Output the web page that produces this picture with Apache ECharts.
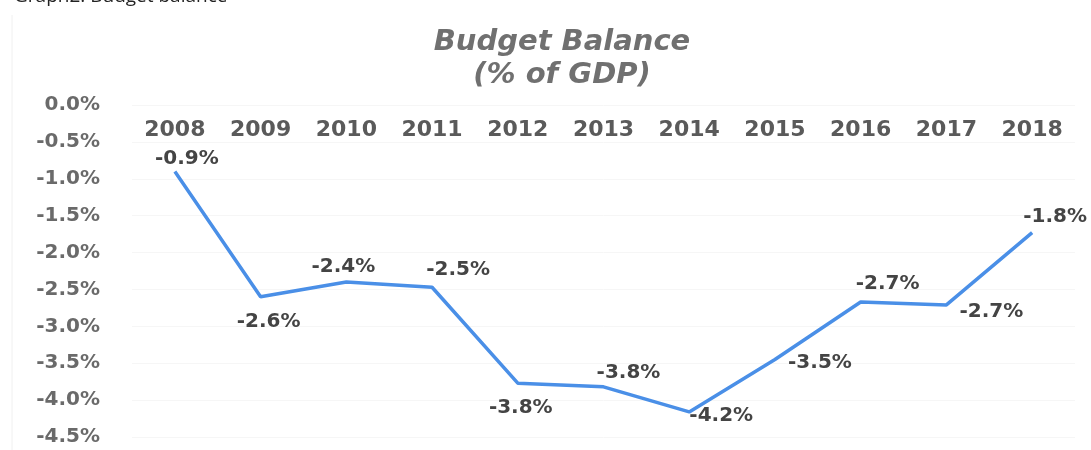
<!DOCTYPE html>
<html><head><meta charset="utf-8">
<script src="https://cdn.jsdelivr.net/npm/echarts@6/dist/echarts.min.js"></script>
<style>html,body{margin:0;padding:0;background:#fff}#c{width:1091px;height:450px}</style>
</head><body><div id="c"></div>
<script>
const years = ['2008','2009','2010','2011','2012','2013','2014','2015','2016','2017','2018'];
const balance = [-0.9, -2.6, -2.4, -2.47, -3.77, -3.82, -4.16, -3.45, -2.67, -2.71, -1.73];
const labels = ['-0.9%','-2.6%','-2.4%','-2.5%','-3.8%','-3.8%','-4.2%','-3.5%','-2.7%','-2.7%','-1.8%'];
const yTicks = [0, -0.5, -1, -1.5, -2, -2.5, -3, -3.5, -4, -4.5];

// label placement offsets (style only)
const labelOffsets = [[12,-13],[8,25],[-3,-15],[26,-17],[3,25],[25,-14],[32,4],[45,3],[27,-18],[45,7],[23,-16]];

const FONT = 'DejaVu Sans';
const chart = echarts.init(document.getElementById('c'));
chart.setOption({
  animation:false,
  backgroundColor:'#fff',
  title:{
    text:'Budget Balance\n(% of GDP)', left:557, top:21, textAlign:'center',
    textStyle:{fontFamily:FONT,fontSize:29,fontWeight:'bold',fontStyle:'italic',color:'#707070',lineHeight:33}
  },
  graphic:[
    {type:'text',left:14,top:-13,style:{text:'Graph2. Budget balance',font:'19px "Open Sans"',fill:'#222'}},
    {type:'line',shape:{x1:12,y1:15,x2:12,y2:450},style:{stroke:'#f0f0f0',lineWidth:1}}
  ],
  grid:{left:132,right:16,top:105,bottom:13},
  xAxis:{
    type:'category', data:years, position:'top', boundaryGap:true,
    axisLine:{show:false}, axisTick:{show:false},
    axisLabel:{inside:true, margin:14, fontFamily:FONT, fontSize:22, fontWeight:'bold', color:'#5a5a5a'}
  },
  yAxis:{
    type:'value', min:-4.5, max:0, interval:0.5,
    axisLine:{show:false}, axisTick:{show:false},
    splitLine:{show:true,lineStyle:{color:'#f6f6f6'}},
    axisLabel:{margin:32, fontFamily:FONT, fontSize:20, fontWeight:'bold', color:'#6a6a6a',
      formatter:v=>v.toFixed(1)+'%'}
  },
  series:[{
    type:'line', data:balance.map((v,i)=>({value:v,label:{offset:labelOffsets[i]}})),
    symbol:'circle', symbolSize:2, showSymbol:true,
    itemStyle:{color:'rgba(0,0,0,0)'},
    lineStyle:{color:'#4a8fe7',width:3.5},
    label:{show:true, position:'inside', fontFamily:FONT, fontSize:20, fontWeight:'bold', color:'#444',
      formatter:p=>labels[p.dataIndex]}
  }]
});
</script></body></html>
